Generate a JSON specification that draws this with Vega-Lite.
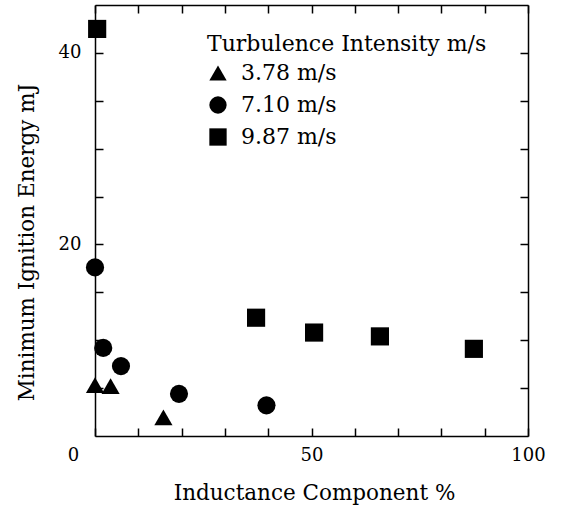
{
  "$schema": "https://vega.github.io/schema/vega-lite/v6.json",
  "width": 433,
  "height": 431,
  "autosize": {"type": "none"},
  "padding": {"left": 95, "top": 5, "right": 34, "bottom": 75},
  "background": "white",
  "config": {
    "view": {"stroke": null},
    "font": "DejaVu Serif",
    "axis": {
      "domainColor": "black",
      "domainWidth": 1.5,
      "tickColor": "black",
      "tickWidth": 1.5,
      "tickSize": -8,
      "labelColor": "black",
      "labelFont": "DejaVu Serif",
      "labelFontSize": 18,
      "labelFlush": false,
      "titleColor": "black",
      "titleFont": "DejaVu Serif",
      "titleFontSize": 21.5,
      "titleFontWeight": "normal",
      "grid": false
    }
  },
  "data": {
    "values": [
      {"inductance": 0.5, "energy": 42.5, "intensity": "9.87 m/s"},
      {"inductance": 37.2, "energy": 12.35, "intensity": "9.87 m/s"},
      {"inductance": 50.6, "energy": 10.8, "intensity": "9.87 m/s"},
      {"inductance": 65.8, "energy": 10.4, "intensity": "9.87 m/s"},
      {"inductance": 87.5, "energy": 9.1, "intensity": "9.87 m/s"},
      {"inductance": 0.0, "energy": 17.6, "intensity": "7.10 m/s"},
      {"inductance": 1.9, "energy": 9.2, "intensity": "7.10 m/s"},
      {"inductance": 6.0, "energy": 7.3, "intensity": "7.10 m/s"},
      {"inductance": 19.4, "energy": 4.4, "intensity": "7.10 m/s"},
      {"inductance": 39.6, "energy": 3.2, "intensity": "7.10 m/s"},
      {"inductance": 0.0, "energy": 5.3, "intensity": "3.78 m/s"},
      {"inductance": 3.6, "energy": 5.2, "intensity": "3.78 m/s"},
      {"inductance": 15.8, "energy": 1.95, "intensity": "3.78 m/s"}
    ]
  },
  "layer": [
    {
      "mark": {"type": "point", "filled": true, "opacity": 1, "color": "black", "size": 330},
      "encoding": {
        "x": {
          "field": "inductance",
          "type": "quantitative",
          "scale": {"domain": [0, 100], "nice": false, "zero": false},
          "axis": {
            "orient": "bottom",
            "title": "Inductance Component %",
            "values": [0, 10, 20, 30, 40, 50, 60, 70, 80, 90, 100],
            "labelExpr": "datum.value == 0 || datum.value == 50 || datum.value == 100 ? datum.label : ''",
            "labelOffset": {"condition": {"test": "datum.value == 0", "value": -22}, "value": 0},
            "labelPadding": 18,
            "titleX": 219,
            "titleY": 57,
            "titleBaseline": "middle",
            "titleAlign": "center"
          }
        },
        "y": {
          "field": "energy",
          "type": "quantitative",
          "scale": {"domain": [0, 45], "nice": false, "zero": false},
          "axis": {
            "orient": "left",
            "title": "Minimum Ignition Energy mJ",
            "values": [5, 10, 15, 20, 25, 30, 35, 40],
            "labelExpr": "datum.value == 20 || datum.value == 40 ? datum.label : ''",
            "labelPadding": 22,
            "titleX": -68,
            "titleY": 237,
            "titleAngle": -90,
            "titleBaseline": "middle",
            "titleAlign": "center"
          }
        },
        "shape": {
          "field": "intensity",
          "type": "nominal",
          "scale": {
            "domain": ["3.78 m/s", "7.10 m/s", "9.87 m/s"],
            "range": ["triangle-up", "circle", "square"]
          },
          "legend": {
            "orient": "none",
            "legendX": 112,
            "legendY": 29,
            "title": "Turbulence Intensity m/s",
            "titleFont": "DejaVu Serif",
            "titleFontSize": 22,
            "titleFontWeight": "normal",
            "titleColor": "black",
            "titleLimit": 400,
            "titlePadding": 6,
            "labelFont": "DejaVu Serif",
            "labelFontSize": 22,
            "labelColor": "black",
            "labelLimit": 300,
            "labelOffset": 12,
            "symbolSize": 300,
            "symbolFillColor": "black",
            "symbolStrokeColor": "black",
            "symbolStrokeWidth": 0,
            "rowPadding": 10
          }
        }
      }
    },
    {
      "mark": {"type": "point", "opacity": 0},
      "encoding": {
        "x": {
          "field": "inductance",
          "type": "quantitative",
          "axis": {
            "orient": "top",
            "title": null,
            "values": [0, 10, 20, 30, 40, 50, 60, 70, 80, 90, 100],
            "labels": false
          }
        },
        "y": {
          "field": "energy",
          "type": "quantitative",
          "axis": {
            "orient": "right",
            "title": null,
            "values": [5, 10, 15, 20, 25, 30, 35, 40],
            "labels": false
          }
        }
      }
    }
  ],
  "resolve": {"axis": {"x": "independent", "y": "independent"}}
}
